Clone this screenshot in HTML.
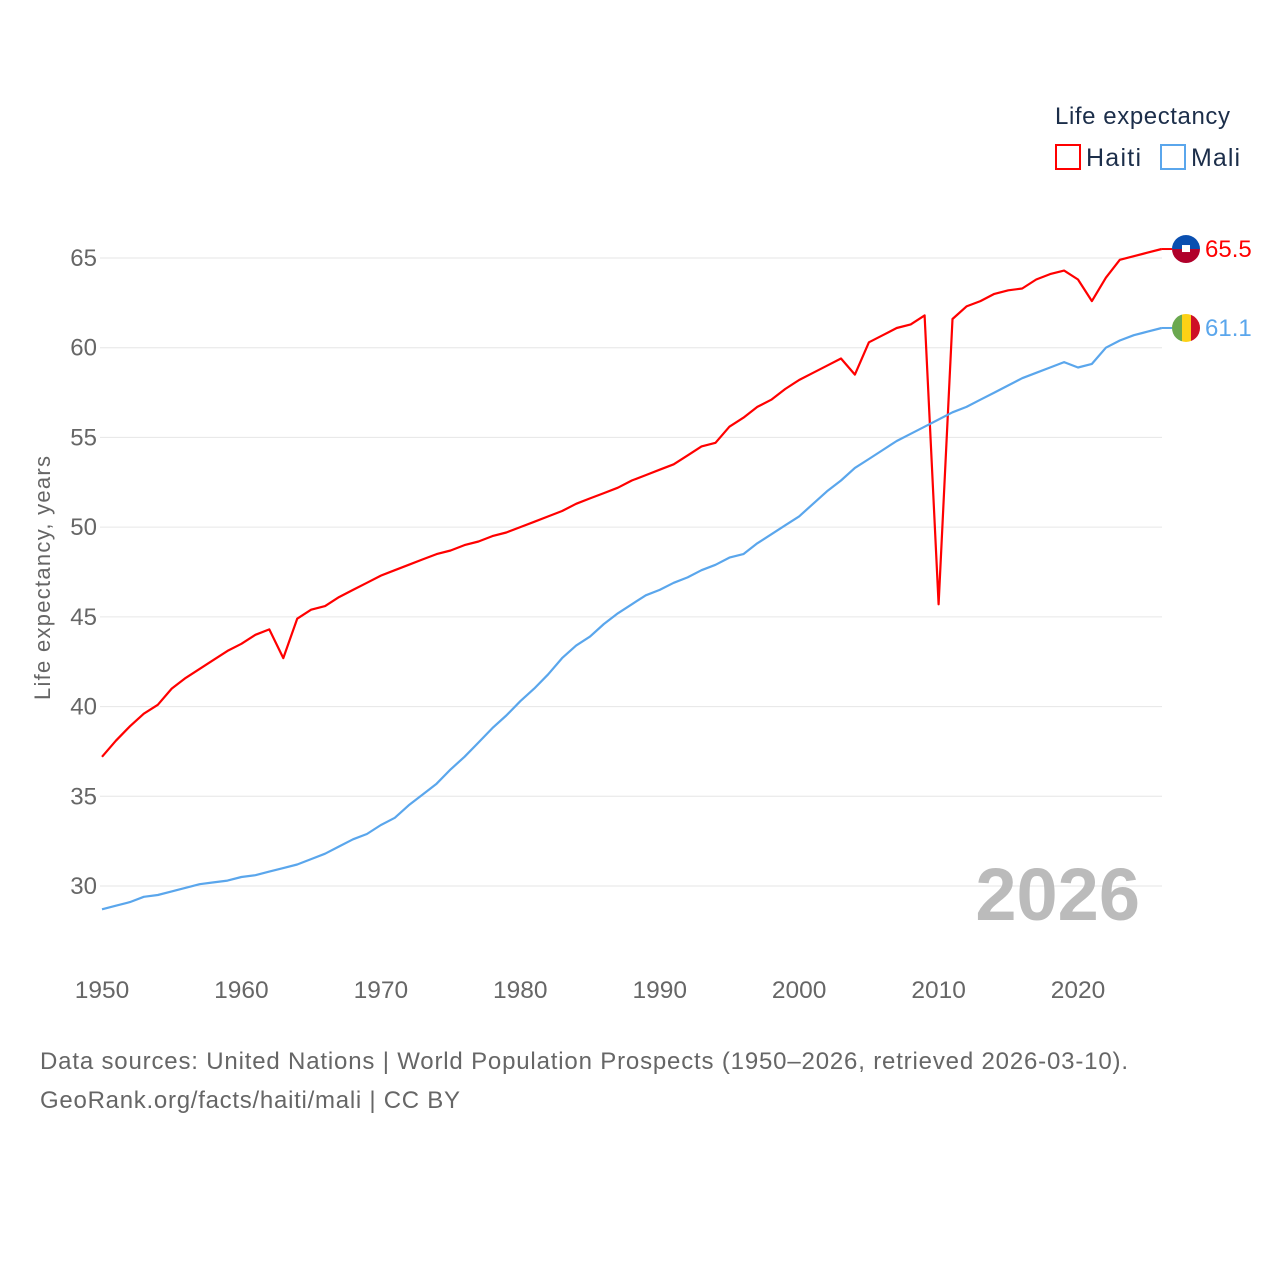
<!DOCTYPE html>
<html><head><meta charset="utf-8"><style>
body{margin:0;background:#fff;font-family:"Liberation Sans",sans-serif;}
svg text{font-family:"Liberation Sans",sans-serif;}
</style></head><body>
<svg width="1280" height="1280" viewBox="0 0 1280 1280">
<g id="grid"></g>
<g id="yticks"></g>
<g id="xticks"></g>
<text x="50" y="578" transform="rotate(-90 50 578)" text-anchor="middle" font-size="22" textLength="244" fill="#666">Life expectancy, years</text>
<text x="1140" y="920" text-anchor="end" font-size="74" font-weight="bold" fill="#bbb">2026</text>
<g id="lines"></g>
<g>
<text x="1055" y="124" font-size="24" textLength="175" fill="#1c2e4a">Life expectancy</text>
<g><rect x="1056" y="145" width="24" height="24" fill="none" stroke="#f00" stroke-width="2"/><text x="1086" y="166" font-size="25" textLength="55" fill="#1c2e4a">Haiti</text></g>
<g><rect x="1161" y="145" width="24" height="24" fill="none" stroke="#5aa6ec" stroke-width="2"/><text x="1191" y="166" font-size="25" textLength="49" fill="#1c2e4a">Mali</text></g>
</g>
<text x="40" y="1069" font-size="24" textLength="1088" fill="#666">Data sources: United Nations | World Population Prospects (1950–2026, retrieved 2026-03-10).</text>
<text x="40" y="1108" font-size="24" textLength="420" fill="#666">GeoRank.org/facts/haiti/mali | CC BY</text>
</svg>
<script>
const years=[];for(let y=1950;y<=2026;y++)years.push(y);
const haiti=[37.2,38.1,38.9,39.6,40.1,41.0,41.6,42.1,42.6,43.1,43.5,44.0,44.3,42.7,44.9,45.4,45.6,46.1,46.5,46.9,47.3,47.6,47.9,48.2,48.5,48.7,49.0,49.2,49.5,49.7,50.0,50.3,50.6,50.9,51.3,51.6,51.9,52.2,52.6,52.9,53.2,53.5,54.0,54.5,54.7,55.6,56.1,56.7,57.1,57.7,58.2,58.6,59.0,59.4,58.5,60.3,60.7,61.1,61.3,61.8,45.7,61.6,62.3,62.6,63.0,63.2,63.3,63.8,64.1,64.3,63.8,62.6,63.9,64.9,65.1,65.3,65.5];
const mali=[28.7,28.9,29.1,29.4,29.5,29.7,29.9,30.1,30.2,30.3,30.5,30.6,30.8,31.0,31.2,31.5,31.8,32.2,32.6,32.9,33.4,33.8,34.5,35.1,35.7,36.5,37.2,38.0,38.8,39.5,40.3,41.0,41.8,42.7,43.4,43.9,44.6,45.2,45.7,46.2,46.5,46.9,47.2,47.6,47.9,48.3,48.5,49.1,49.6,50.1,50.6,51.3,52.0,52.6,53.3,53.8,54.3,54.8,55.2,55.6,56.0,56.4,56.7,57.1,57.5,57.9,58.3,58.6,58.9,59.2,58.9,59.1,60.0,60.4,60.7,60.9,61.1];
const yTicks=[30,35,40,45,50,55,60,65];
const xTicks=[1950,1960,1970,1980,1990,2000,2010,2020];
const X=y=>102+(y-1950)*(976/70);
const Y=v=>886-(v-30)*(628/35);
const NS='http://www.w3.org/2000/svg';
function mk(t,a,p){const e=document.createElementNS(NS,t);for(const k in a)e.setAttribute(k,a[k]);p.appendChild(e);return e;}
const grid=document.getElementById('grid'),yt=document.getElementById('yticks'),xt=document.getElementById('xticks'),ln=document.getElementById('lines');
yTicks.forEach(v=>{
const l=mk('line',{x1:100,x2:1162,y1:Y(v),y2:Y(v),stroke:'#e6e6e6','stroke-width':1},grid);


const t=mk('text',{x:97,y:Y(v)+8,'text-anchor':'end','font-size':24,fill:'#666'},yt);t.textContent=v;


});
xTicks.forEach(v=>{
const t=mk('text',{x:X(v),y:998,'text-anchor':'middle','font-size':24.5,fill:'#666'},xt);t.textContent=v;


});
function series(vals,color,name,flag){
const p=mk('path',{d:vals.map((v,i)=>(i?'L':'M')+X(years[i]).toFixed(1)+' '+Y(v).toFixed(1)).join(''),fill:'none',stroke:color,'stroke-width':2.2,'stroke-linejoin':'round'},ln);


const lv=vals[vals.length-1],ly=Y(lv),cx=1186;
const g=mk('g',{},ln);


mk('line',{x1:X(2026),x2:cx-14,y1:ly,y2:ly,stroke:color,'stroke-width':2},g);
const cp=mk('clipPath',{id:'c'+name},g);mk('circle',{cx:cx,cy:ly,r:14},cp);
const fg=mk('g',{'clip-path':'url(#c'+name+')'},g);
if(flag==='haiti'){mk('rect',{x:cx-14,y:ly-14,width:28,height:14,fill:'#0a4fb0'},fg);mk('rect',{x:cx-14,y:ly,width:28,height:14,fill:'#b0002a'},fg);mk('rect',{x:cx-4,y:ly-4,width:8,height:7,fill:'#fff'},fg);}
else{mk('rect',{x:cx-14,y:ly-14,width:10,height:28,fill:'#6aa84f'},fg);mk('rect',{x:cx-4,y:ly-14,width:9,height:28,fill:'#fcd116'},fg);mk('rect',{x:cx+5,y:ly-14,width:10,height:28,fill:'#ce1126'},fg);}
const t=mk('text',{x:1205,y:ly+8,'font-size':24,fill:color},g);t.textContent=lv.toFixed(1);
}
series(haiti,'#ff0000','haiti','haiti');
series(mali,'#5aa6ec','mali','mali');
</script>
</body></html>
